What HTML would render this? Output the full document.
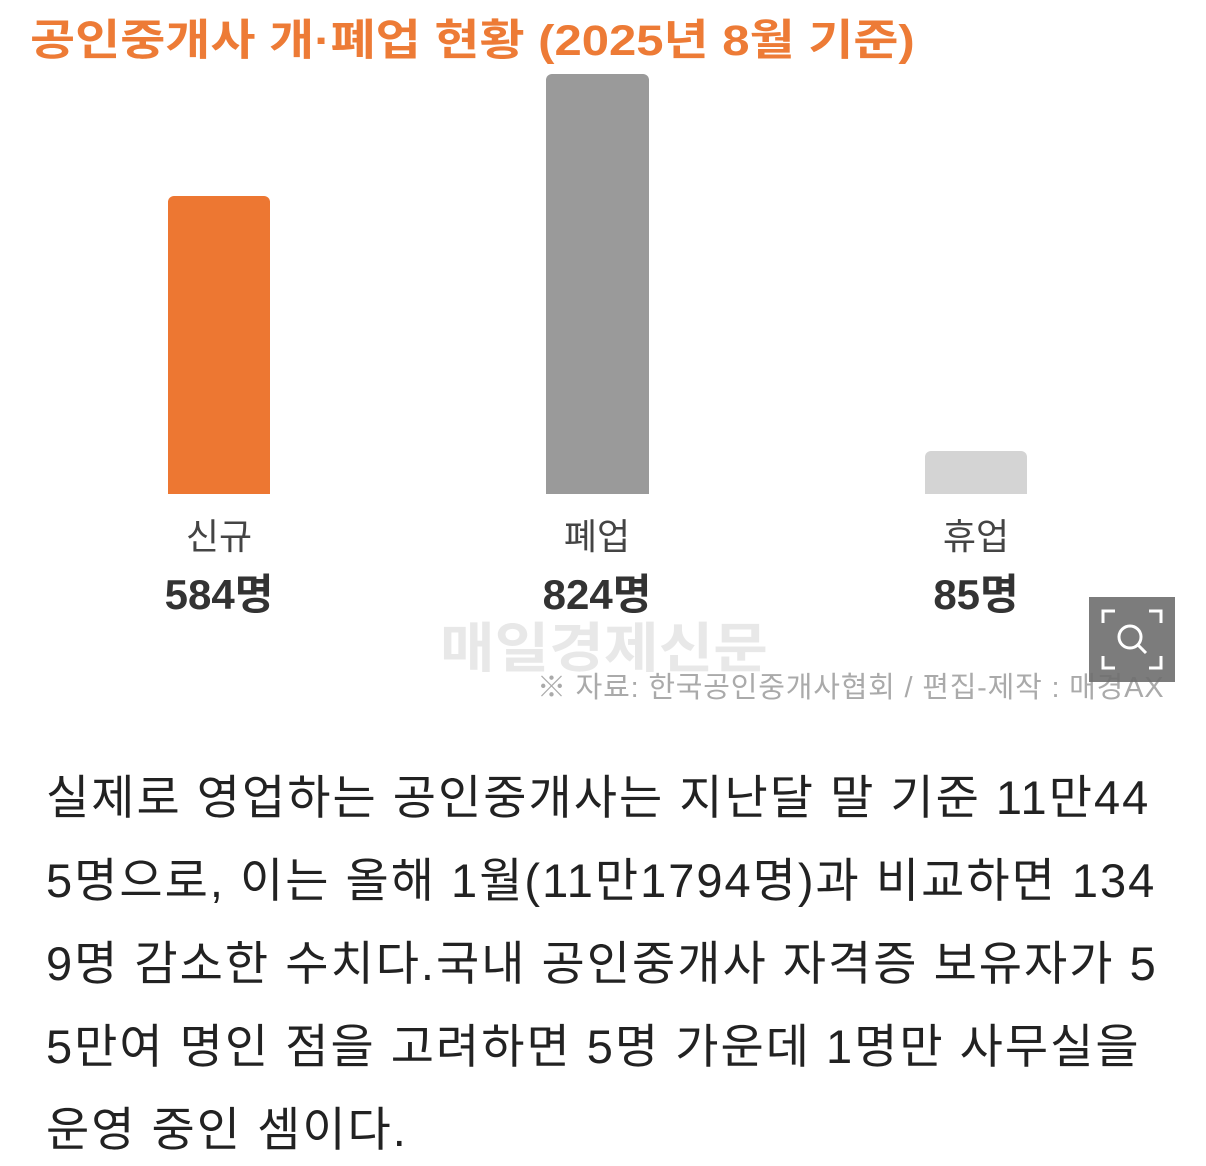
<!DOCTYPE html>
<html><head><meta charset="utf-8"><style>
body{margin:0;width:1206px;height:1166px;background:#fff;position:relative;overflow:hidden;font-family:"Liberation Sans","Noto Sans CJK KR",sans-serif}
.a{position:absolute;white-space:nowrap}
.bar{position:absolute;border-radius:6px 6px 0 0}
.lab{position:absolute;width:200px;text-align:center;font-size:36px;color:#444;top:508px}
.val{position:absolute;width:240px;text-align:center;font-size:42px;font-weight:bold;color:#333;top:561px}
.body{left:46px;font-size:47px;color:#222;letter-spacing:2px;line-height:60px}
</style></head><body>
<div class="a" style="left:30px;top:6px;font-size:43px;font-weight:bold;color:#ED7B36;transform:scaleX(1.14);transform-origin:left top">공인중개사 개·폐업 현황 (2025년 8월 기준)</div>
<div class="bar" style="left:168px;top:196px;width:102px;height:298px;background:#ED7732"></div>
<div class="bar" style="left:546px;top:74px;width:103px;height:420px;background:#9A9A9A"></div>
<div class="bar" style="left:925px;top:451px;width:102px;height:43px;background:#D4D4D4"></div>
<div class="lab" style="left:119px">신규</div>
<div class="lab" style="left:497px">폐업</div>
<div class="lab" style="left:876px">휴업</div>
<div class="val" style="left:99px">584명</div>
<div class="val" style="left:477px">824명</div>
<div class="val" style="left:856px">85명</div>
<div class="a" style="left:440px;top:604px;font-size:54px;font-weight:bold;color:#E8E8E8;transform:scaleX(1.1);transform-origin:left top">매일경제신문</div>
<div class="a" style="left:537px;top:664px;font-size:29px;color:#AAA;letter-spacing:0.8px">※ 자료: 한국공인중개사협회 / 편집-제작 : 매경AX</div>
<div class="a" style="left:1089px;top:597px;width:86px;height:85px;background:rgba(110,110,110,0.9)">
<svg width="86" height="85" viewBox="0 0 86 85" fill="none" stroke="#fff" stroke-width="3">
<path d="M14 26V14h12M60 14h12v12M72 59v12H60M26 71H14V59"/>
<circle cx="41" cy="40" r="11"/><path d="M49 48l8 8"/></svg></div>
<div class="a body" style="top:768px">실제로 영업하는 공인중개사는 지난달 말 기준 11만44</div>
<div class="a body" style="top:851px">5명으로, 이는 올해 1월(11만1794명)과 비교하면 134</div>
<div class="a body" style="top:934px">9명 감소한 수치다.국내 공인중개사 자격증 보유자가 5</div>
<div class="a body" style="top:1017px">5만여 명인 점을 고려하면 5명 가운데 1명만 사무실을</div>
<div class="a body" style="top:1100px">운영 중인 셈이다.</div>
</body></html>
